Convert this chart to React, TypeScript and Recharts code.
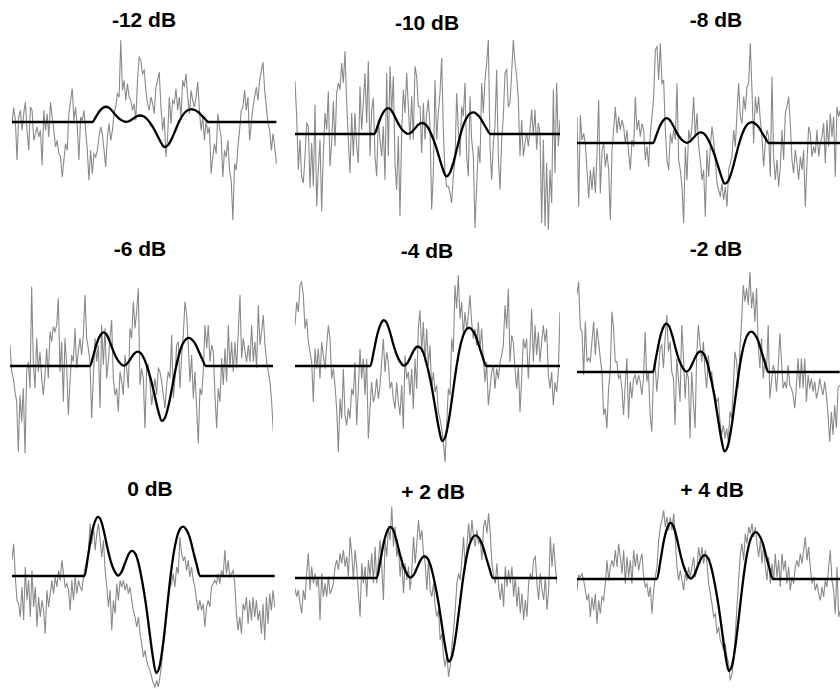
import React from "react";
import { LineChart, Line, XAxis, YAxis } from "recharts";

// Signal-to-noise levels, one panel each (row by row)
const titles = ["-12 dB", "-10 dB", "-8 dB", "-6 dB", "-4 dB", "-2 dB", "0 dB", "+ 2 dB", "+ 4 dB"];

// Template pulse: normalised time (0..1) and normalised amplitude (trough = -1)
const shapeT = [0, 0.03, 0.06, 0.09, 0.116, 0.14, 0.17, 0.2, 0.23, 0.26, 0.29, 0.32, 0.35, 0.38, 0.41, 0.44, 0.47, 0.5, 0.53, 0.56, 0.59, 0.62, 0.65, 0.68, 0.71, 0.74, 0.77, 0.8, 0.83, 0.855, 0.88, 0.91, 0.94, 0.97, 1];
const shapeV = [0, 0.2, 0.42, 0.56, 0.61, 0.58, 0.45, 0.28, 0.14, 0.05, 0.005, 0.04, 0.13, 0.22, 0.26, 0.23, 0.12, -0.06, -0.28, -0.55, -0.82, -1, -0.93, -0.7, -0.38, -0.05, 0.22, 0.4, 0.49, 0.51, 0.48, 0.4, 0.26, 0.12, 0];

// Pulse onset (sample index), pulse length (samples) and trough depth per panel
const pulseStart = [48, 47.6, 45.6, 48, 45.2, 45.6, 43.6, 49, 48];
const PULSE_LEN = 69.5;
const pulseDepth = [75, 127, 122, 165, 225, 238, 291, 251, 276];

// Noisy received signals
const noiseM12 = [-5,43,5,-115,15,35,-25,25,60,-25,-85,45,35,-55,-35,-15,-45,-25,-130,35,-25,25,-45,60,15,-25,-75,-55,-95,-105,-165,-115,-65,-85,25,65,100,5,45,-15,-115,15,5,35,-25,-85,-175,-85,-155,-95,-105,-85,-45,-15,-35,-85,-135,-45,-5,-55,-25,25,45,85,75,245,95,125,65,115,75,65,35,55,5,125,195,185,145,155,95,55,35,75,55,25,105,125,150,45,-25,15,-105,-45,75,-5,65,55,100,35,75,15,125,105,145,75,25,95,65,45,75,120,35,-25,15,-55,5,-35,-15,-155,-105,-65,-95,25,-15,-45,-165,-85,-105,-55,-145,-175,-295,-125,-145,-75,-25,35,45,95,35,75,-55,-5,45,75,105,65,125,155,180,95,45,-5,-25,-85,-35,-75,-125];
const noiseM10 = [158,53,-107,-17,-127,-147,-67,33,23,-162,-27,-157,88,-217,-107,-17,-232,-57,63,13,128,-97,-27,98,-37,123,153,133,213,153,248,93,-17,-117,63,-67,63,-37,-87,143,13,93,183,33,218,-67,73,108,-67,-127,43,-17,-67,23,-137,183,-67,203,63,173,-87,-167,-7,-247,3,133,63,183,83,-17,113,-17,203,173,83,83,-57,93,-17,63,103,23,-227,-117,163,-17,63,123,228,13,-117,-157,-157,-177,-207,-127,-77,123,13,-67,83,53,153,-67,-127,113,-17,-67,-282,-157,-37,-87,153,63,163,213,283,-37,-137,-27,23,193,-67,-167,-17,53,183,193,83,93,183,283,213,173,103,-67,43,-67,-27,3,-37,13,73,-7,73,-47,33,3,-267,-17,-277,-87,-287,-107,-207,133,-117,153,-37,43];
const noiseM8 = [79,-191,84,9,29,-1,-81,-166,-81,-141,-71,-151,-31,129,-151,-21,-1,-71,-31,-81,-231,-21,39,109,29,79,39,69,49,-1,39,-31,-81,9,-11,139,39,69,19,59,39,-51,-11,-71,29,79,139,279,289,189,299,179,189,39,-51,-81,29,-1,39,9,179,-51,-81,-131,-241,-11,-111,39,9,49,139,19,89,-11,-51,-111,-81,-221,-21,-101,-11,49,9,-51,-121,-141,-161,-121,-171,-131,-191,-81,-61,-41,39,-11,89,179,79,59,139,99,169,179,299,159,-1,139,89,139,69,19,-71,-1,39,19,-101,199,-41,-111,-51,-131,-71,39,-51,89,109,139,59,-51,-91,-21,-61,-111,-41,-81,-21,-191,-61,49,29,-41,-11,-31,39,-41,-1,19,59,-61,69,-11,89,19,79,-101,109,79,99];
const noiseM6 = [63,-17,-37,-77,-107,-257,-87,-167,-67,-262,-17,13,-67,238,13,-67,83,-17,43,-37,-87,-27,53,-37,103,73,118,103,123,203,-17,73,-107,83,3,-147,-47,33,13,113,-7,43,83,33,93,213,83,53,13,-157,-37,83,13,63,-127,123,3,113,-37,13,83,138,-37,-87,-67,-137,-17,-47,-87,33,-7,-67,113,83,193,113,163,233,-57,-7,-37,-187,-7,3,-47,-117,-77,-37,-87,-7,-17,-47,-87,-127,-57,-17,-37,93,-97,-37,63,73,-67,33,93,193,153,63,-47,33,-97,-17,-127,-232,-67,-87,-17,123,53,123,13,63,43,-87,-187,-67,-107,23,-57,53,-47,123,-7,73,-17,73,-7,103,213,23,83,43,13,63,13,123,13,73,-7,183,63,103,153,63,13,-17,-47,-107,-197];
const noiseM4 = [122,192,162,242,252,212,112,142,72,42,12,-108,52,-8,52,-38,72,32,-8,62,122,82,-38,-8,-58,-128,-258,-98,-158,-8,-148,-178,-128,-158,-68,-88,12,-178,-68,52,-38,22,-88,22,-218,-128,-48,-108,-88,-38,-98,-58,12,82,-18,42,12,-68,-48,-98,-128,-48,-108,-148,-58,-188,32,-38,-18,-88,-8,-128,22,-68,112,167,42,132,12,112,2,62,-68,-18,-78,-58,-138,-158,-188,-228,-288,-178,-68,-88,82,42,242,172,272,142,192,92,162,112,152,212,132,82,112,62,132,52,112,22,-48,12,-118,-68,-18,2,-68,-8,-38,12,32,62,182,112,232,12,92,72,-8,-68,2,-138,-38,82,52,82,-38,52,172,12,122,32,102,12,72,122,72,112,-28,-68,-18,-118,-48,-78,-18,162];
const noiseM2 = [231,271,131,121,-9,151,31,41,31,91,151,51,131,91,41,1,-129,-109,-169,-49,1,181,131,31,31,-19,-9,-49,-129,-39,41,-139,-29,-79,-19,-9,-39,-9,-29,-69,-19,121,-29,1,-129,-179,-9,21,-59,1,71,81,11,101,171,61,91,1,-19,-159,41,-19,-89,141,51,-79,1,-19,-199,1,-89,-169,51,141,81,31,91,1,-49,51,-19,1,-49,-69,-89,-79,-149,-189,-159,-199,-169,-209,-119,-139,-49,61,31,-49,71,151,261,211,251,201,301,191,241,151,251,81,11,101,-19,41,1,141,-79,-29,21,1,-59,11,116,31,-49,-29,-49,21,-39,-49,-69,-109,-39,41,-49,41,-49,41,-89,-9,-49,-19,-59,-29,-79,-59,-19,-49,-69,-29,-69,-129,-209,-119,-189,-99,-169,-49,-39];
const noise0 = [47,97,-3,-73,-83,-123,-33,-133,27,-73,-13,-123,17,-93,-33,-153,-63,-123,-73,-103,-173,-43,-93,-53,-13,-53,-3,-33,17,-13,47,7,-33,-23,-43,-103,-13,-73,-3,-53,-13,-33,-43,-3,27,47,77,157,97,147,77,127,157,107,57,107,17,-33,-93,-43,-163,-73,-113,-23,-73,-13,-33,-13,-43,-23,-53,-33,-73,-103,-123,-153,-123,-173,-203,-243,-223,-253,-273,-283,-303,-323,-333,-313,-333,-303,-263,-213,-173,-103,-63,-33,-23,7,-33,27,7,117,67,47,57,17,47,-3,27,-13,-33,-73,-103,-73,-103,-83,-153,-93,-73,-93,-33,-23,-13,-23,7,-23,17,-3,77,7,47,-3,7,17,-23,-113,-163,-123,-173,-83,-103,-63,-143,-73,-133,-63,-123,-73,-133,-103,-173,-83,-193,-63,-143,-53,-103,-43,-93];
const noiseP2 = [-31,-56,-36,-76,-106,-36,-66,14,74,-36,34,-16,14,-26,4,-126,14,-56,-16,-56,4,-46,-36,-16,34,54,24,74,44,84,34,64,4,124,74,-6,84,34,-46,-116,44,-16,34,-56,54,4,74,-16,94,-16,54,114,34,-66,114,64,154,114,214,94,154,64,94,4,64,-46,44,-6,34,-36,24,124,44,104,174,114,144,74,44,-36,54,-36,-56,-16,-86,-116,-96,-186,-166,-236,-266,-226,-296,-266,-206,-156,-96,-16,14,-6,54,124,24,94,164,104,174,124,94,144,104,114,54,154,174,134,194,134,44,4,-16,44,-26,-66,-16,-86,34,-26,24,-16,34,-56,4,-86,-26,-106,-46,-126,-66,-116,-16,14,-6,54,64,-16,-66,14,-36,-66,4,-96,-36,124,34,104,34,-16];
const noiseP4 = [-34,11,6,16,-4,-34,-64,-44,-114,-54,-94,-44,-134,-64,-104,-54,-64,-14,56,-4,36,56,36,86,36,106,66,16,86,-14,66,6,56,-14,86,36,76,26,56,76,6,-24,-14,-54,-24,-104,-34,6,36,116,156,176,206,156,186,146,186,146,196,116,36,-4,26,-4,-34,16,-4,36,6,36,66,6,36,96,56,96,46,86,46,-14,-44,-74,-114,-104,-164,-144,-184,-194,-214,-194,-234,-254,-304,-284,-244,-164,-84,-4,76,106,56,136,106,156,136,166,126,156,106,66,116,46,106,36,-4,66,-14,46,-4,76,6,56,-24,76,26,56,-14,36,-34,6,-14,36,56,36,76,46,86,126,56,96,36,-14,6,-34,-14,-44,-64,-24,-54,-4,-24,36,86,-4,-34,-104,36,-114,-94];

const noiseSets = [noiseM12, noiseM10, noiseM8, noiseM6, noiseM4, noiseM2, noise0, noiseP2, noiseP4];

// Panel placement on the page: left, right, baseline (px)
const boxes = [
  [12.3, 276.7, 121.7], [294.7, 559.7, 134.3], [576.7, 840, 143],
  [10, 273.3, 366.3], [294.7, 559.7, 366], [577.3, 840, 372.3],
  [12.3, 275, 575.7], [294.7, 556.7, 578], [576.7, 840, 578.7],
];
// Title centre x and baseline y
const titlePos = [
  [144, 27], [427, 30], [716, 27],
  [140, 256], [427, 258], [716, 256],
  [150, 496], [433, 499], [712, 497],
];

const Y_RANGE = 360; // amplitude units above/below zero shown per panel
const PANEL_H = 240;

function pulseSeries(start: number, depth: number, last: number) {
  const pts = [{ x: 0, y: 0 }, { x: start, y: 0 }];
  for (let k = 1; k < shapeT.length - 1; k++) {
    pts.push({ x: start + shapeT[k] * PULSE_LEN, y: shapeV[k] * depth });
  }
  pts.push({ x: start + PULSE_LEN, y: 0 }, { x: last, y: 0 });
  return pts;
}

function Panel({ idx }: { idx: number }) {
  const noise = noiseSets[idx];
  const last = noise.length - 1;
  const data = noise.map((v, i) => ({ x: i, y: v }));
  const pulse = pulseSeries(pulseStart[idx], pulseDepth[idx], last);
  const [left, right, base] = boxes[idx];
  const w = right - left;
  return (
    <div style={{ position: "absolute", left, top: base - PANEL_H / 2, width: w, height: PANEL_H }}>
      <LineChart width={w} height={PANEL_H} data={data} margin={{ top: 0, right: 0, bottom: 0, left: 0 }}>
        <XAxis type="number" dataKey="x" domain={[0, last]} hide />
        <YAxis type="number" domain={[-Y_RANGE, Y_RANGE]} hide allowDataOverflow />
        <Line dataKey="y" type="linear" stroke="#8a8a8a" strokeWidth={1.1} dot={false} isAnimationActive={false} />
        <Line data={pulse} dataKey="y" type="monotone" stroke="#000000" strokeWidth={2.3} dot={false} isAnimationActive={false} />
      </LineChart>
    </div>
  );
}

export default function App() {
  return (
    <div style={{ position: "absolute", left: 0, top: 0, width: 840, height: 689, overflow: "hidden", background: "#ffffff" }}>
      {titles.map((_, i) => (
        <Panel key={i} idx={i} />
      ))}
      <svg width={840} height={689} style={{ position: "absolute", left: 0, top: 0, pointerEvents: "none" }}>
        {titles.map((t, i) => (
          <text
            key={t}
            x={titlePos[i][0]}
            y={titlePos[i][1]}
            textAnchor="middle"
            fontFamily="'Liberation Sans', Arial, Helvetica, sans-serif"
            fontWeight="bold"
            fontSize={21}
            fill="#000"
          >
            {t}
          </text>
        ))}
      </svg>
    </div>
  );
}
